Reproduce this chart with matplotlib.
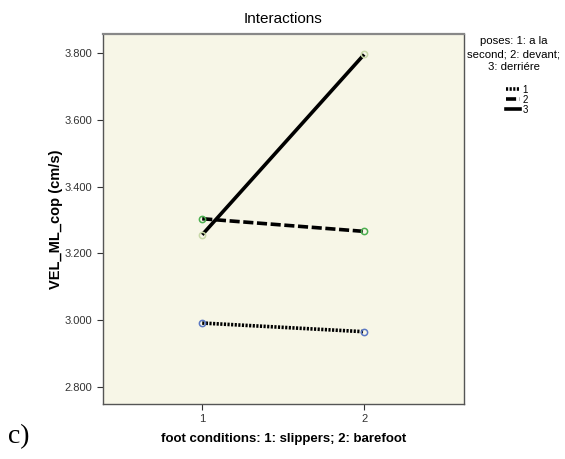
import matplotlib
matplotlib.use("Agg")
import matplotlib.pyplot as plt
from matplotlib.lines import Line2D

# Estimated marginal means of VEL_ML_cop by foot condition and pose
foot_conditions = [1, 2]
pose_labels = ["1", "2", "3"]
pose_1 = [2.991, 2.965]
pose_2 = [3.304, 3.266]
pose_3 = [3.256, 3.797]
y_ticks = [2.8, 3.0, 3.2, 3.4, 3.6, 3.8]

plt.rcParams["font.family"] = ["Liberation Sans", "DejaVu Sans"]

fig = plt.figure(figsize=(5.65, 4.59), dpi=100)
ax = fig.add_axes([0.1823, 0.1198, 0.6389, 0.8062])
ax.set_facecolor("#f7f6e7")

dotted = (0, (0.6, 0.4))
dashed = (0, (2.8, 1.0))
styles = [
    dict(values=pose_1, ls=dotted, mec="#5b78c4"),
    dict(values=pose_2, ls=dashed, mec="#4caf50"),
    dict(values=pose_3, ls="-", mec="#c8d8a8"),
]
for st in styles:
    ax.plot(foot_conditions, st["values"], color="black", lw=2.6,
            ls=st["ls"], solid_capstyle="butt", dash_capstyle="butt", zorder=2)
    ax.plot(foot_conditions, st["values"], ls="none", marker="o", ms=4.5,
            mfc="none", mec=st["mec"], mew=1.1, zorder=3)

ax.set_xlim(0.387, 2.617)
ax.set_ylim(2.748, 3.8585)
ax.set_xticks(foot_conditions)
ax.set_xticklabels([str(v) for v in foot_conditions])
ax.set_yticks(y_ticks)
ax.set_yticklabels([f"{v:.3f}" for v in y_ticks])
ax.tick_params(axis="both", labelsize=8, colors="#333333", length=4, width=0.8)

for side in ax.spines.values():
    side.set_color("#555555")
    side.set_linewidth(1.0)
ax.spines["top"].set_color("#888888")
ax.spines["top"].set_linewidth(1.6)

ax.set_title("Interactions", fontsize=11, pad=8)
ax.set_xlabel("foot conditions: 1: slippers; 2: barefoot", fontsize=9.5,
              fontweight="bold", labelpad=6)
ax.set_ylabel("VEL_ML_cop (cm/s)", fontsize=10.5, fontweight="bold", labelpad=1)

# Legend: centred multi-line title above a compact key
fig.text(0.909, 1 - 36 / 459, "poses: 1: a la\nsecond; 2: devant;\n3: derriére",
         ha="center", va="top", multialignment="center", fontsize=8.2,
         linespacing=1.4)
handles = [
    Line2D([], [], color="black", lw=2.6, ls=dotted),
    Line2D([], [], color="black", lw=2.6, ls=dashed),
    Line2D([], [], color="black", lw=2.6, ls="-"),
]
fig.legend(handles, pose_labels,
           loc="upper center", bbox_to_anchor=(0.915, 1 - 79 / 459),
           frameon=False, fontsize=7,
           handlelength=1.4, handletextpad=0.25, labelspacing=0.0,
           borderpad=0.1)

fig.text(0.014, 0.035, "c)", family=["Liberation Serif", "DejaVu Serif"],
         fontsize=20)

fig.savefig("out.png", dpi=100)
